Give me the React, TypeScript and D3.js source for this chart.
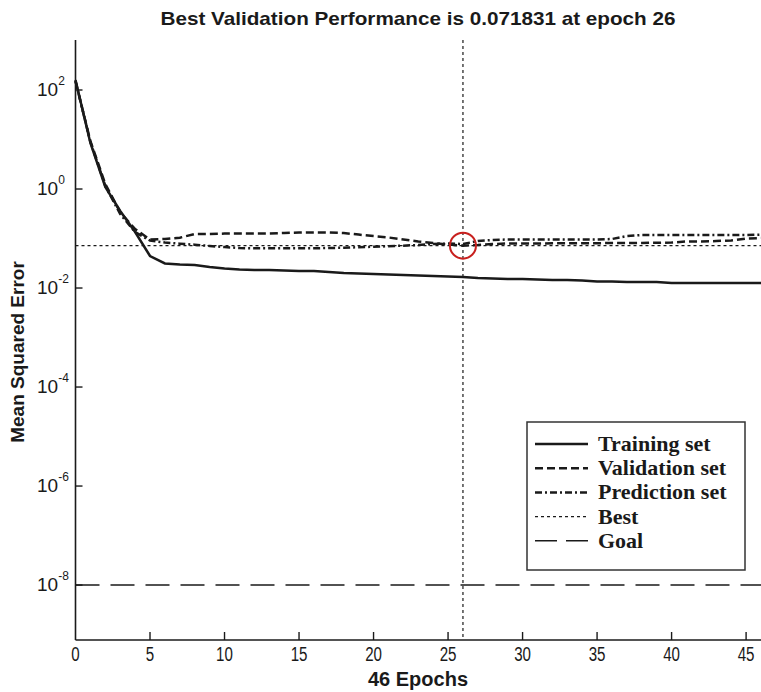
import { useRef, useEffect } from 'react';
import * as d3 from 'd3';

// MSE per epoch (index = epoch)
const training = [159, 8.5, 1.1, 0.36, 0.135, 0.0443, 0.0313, 0.0298, 0.0292, 0.0266, 0.0248, 0.0236, 0.0231, 0.0231, 0.0226, 0.0221, 0.0221, 0.0211, 0.0201, 0.0196, 0.0192, 0.0187, 0.0183, 0.0179, 0.0175, 0.0171, 0.0167, 0.0159, 0.0156, 0.0152, 0.0152, 0.0148, 0.0145, 0.0145, 0.0142, 0.0135, 0.0135, 0.0132, 0.0132, 0.0132, 0.0126, 0.0126, 0.0126, 0.0126, 0.0126, 0.0126, 0.0126];
const validation = [150, 9.3, 1.26, 0.34, 0.155, 0.0955, 0.0977, 0.104, 0.123, 0.123, 0.126, 0.126, 0.126, 0.126, 0.129, 0.132, 0.133, 0.132, 0.129, 0.12, 0.112, 0.105, 0.0955, 0.087, 0.081, 0.0756, 0.071831, 0.0739, 0.0774, 0.0792, 0.0795, 0.079, 0.0798, 0.08, 0.08, 0.0805, 0.081, 0.081, 0.0815, 0.082, 0.083, 0.087, 0.087, 0.089, 0.091, 0.1, 0.102];
const prediction = [152, 8.9, 1.15, 0.313, 0.135, 0.091, 0.083, 0.0785, 0.075, 0.0706, 0.0673, 0.0643, 0.0634, 0.0634, 0.0634, 0.0634, 0.0634, 0.0643, 0.0652, 0.0667, 0.0683, 0.0699, 0.0718, 0.0739, 0.0774, 0.0792, 0.0775, 0.089, 0.0933, 0.0955, 0.0955, 0.0955, 0.0955, 0.0955, 0.0955, 0.0955, 0.0977, 0.112, 0.1177, 0.1177, 0.1177, 0.1177, 0.1177, 0.1177, 0.1177, 0.1177, 0.12];

const bestEpoch = 26;
const bestValue = 0.071831;
const goalValue = 1e-8;
const totalEpochs = 46;

const xTicks = [0, 5, 10, 15, 20, 25, 30, 35, 40, 45];
const yTicks = [1e2, 1e0, 1e-2, 1e-4, 1e-6, 1e-8];
const yTickExp = ['2', '0', '-2', '-4', '-6', '-8'];

const legendItems = [
  { label: 'Training set', dash: null, width: 2.5 },
  { label: 'Validation set', dash: '8,4', width: 2.5 },
  { label: 'Prediction set', dash: '7,3,2,3', width: 2.5 },
  { label: 'Best', dash: '3,3', width: 1.2 },
  { label: 'Goal', dash: '22,9', width: 1.5 },
];

const W = 761;
const H = 692;
const SANS = 'Liberation Sans, Arial, sans-serif';
const SERIF = 'Liberation Serif, Times New Roman, serif';

export default function App() {
  const svgRef = useRef<SVGSVGElement | null>(null);

  useEffect(() => {
    if (!svgRef.current) return;
    const svg = d3.select(svgRef.current);
    svg.selectAll('*').remove();

    const left = 75.5, right = W, top = 40, bottom = 640;
    const x = d3.scaleLinear().domain([0, totalEpochs]).range([left, right]);
    const y = d3.scaleLog().domain([Math.pow(10, -9.11), Math.pow(10, 3.01)]).range([bottom, top]);

    svg.append('rect').attr('width', W).attr('height', H).attr('fill', '#fff');

    const g = svg.append('g');
    const ink = '#1a1a1a';

    // goal line
    g.append('line')
      .attr('x1', left).attr('x2', right)
      .attr('y1', y(goalValue)).attr('y2', y(goalValue))
      .attr('stroke', ink).attr('stroke-width', 1.5).attr('stroke-dasharray', '24,11');

    // best horizontal + vertical
    g.append('line')
      .attr('x1', left).attr('x2', right)
      .attr('y1', y(bestValue)).attr('y2', y(bestValue))
      .attr('stroke', ink).attr('stroke-width', 1.2).attr('stroke-dasharray', '3,3');
    g.append('line')
      .attr('x1', x(bestEpoch)).attr('x2', x(bestEpoch))
      .attr('y1', top).attr('y2', bottom)
      .attr('stroke', ink).attr('stroke-width', 1.2).attr('stroke-dasharray', '3,3');

    const line = d3.line<number>()
      .x((_, i) => x(i))
      .y(d => y(d));

    g.append('path').datum(prediction)
      .attr('d', line).attr('fill', 'none').attr('stroke', ink)
      .attr('stroke-width', 2.5).attr('stroke-dasharray', '7,3,2,3');
    g.append('path').datum(validation)
      .attr('d', line).attr('fill', 'none').attr('stroke', ink)
      .attr('stroke-width', 2.5).attr('stroke-dasharray', '8,4');
    g.append('path').datum(training)
      .attr('d', line).attr('fill', 'none').attr('stroke', ink)
      .attr('stroke-width', 2.5);

    // best marker
    g.append('circle')
      .attr('cx', x(bestEpoch)).attr('cy', y(bestValue)).attr('r', 13)
      .attr('fill', 'none').attr('stroke', '#c8201e').attr('stroke-width', 2);

    // axes
    g.append('line').attr('x1', left).attr('x2', left).attr('y1', top).attr('y2', bottom)
      .attr('stroke', ink).attr('stroke-width', 1.6);
    g.append('line').attr('x1', left).attr('x2', right).attr('y1', bottom).attr('y2', bottom)
      .attr('stroke', ink).attr('stroke-width', 1.6);

    xTicks.forEach(t => {
      if (t > 0) {
        g.append('line').attr('x1', x(t)).attr('x2', x(t)).attr('y1', bottom).attr('y2', bottom - 8)
          .attr('stroke', ink).attr('stroke-width', 1.4);
      }
      // tick labels are drawn narrow, as in the source image
      g.append('text')
        .attr('transform', `translate(${x(t)},${661}) scale(0.72,1)`)
        .attr('text-anchor', 'middle')
        .attr('font-family', SANS).attr('font-size', 21).attr('fill', ink)
        .text(t);
    });

    yTicks.forEach((t, i) => {
      const ty = y(t);
      g.append('line').attr('x1', left).attr('x2', left + 7).attr('y1', ty).attr('y2', ty)
        .attr('stroke', ink).attr('stroke-width', 1.4);
      const lbl = g.append('text')
        .attr('x', 37).attr('y', ty + 6)
        .attr('font-family', SANS).attr('font-size', 19).attr('fill', ink);
      lbl.append('tspan').text('10');
      lbl.append('tspan').attr('dy', -11).attr('font-size', 12).text(yTickExp[i]);
    });

    // title and labels
    svg.append('text')
      .attr('x', 418).attr('y', 25)
      .attr('text-anchor', 'middle')
      .attr('font-family', SANS).attr('font-size', 19).attr('font-weight', 'bold').attr('fill', ink)
      .attr('textLength', 515).attr('lengthAdjust', 'spacingAndGlyphs')
      .text(`Best Validation Performance is ${bestValue} at epoch ${bestEpoch}`);

    svg.append('text')
      .attr('x', 418).attr('y', 686)
      .attr('text-anchor', 'middle')
      .attr('font-family', SANS).attr('font-size', 20).attr('font-weight', 'bold').attr('fill', ink)
      .text(`${totalEpochs} Epochs`);

    svg.append('text')
      .attr('transform', `translate(24,352) rotate(-90)`)
      .attr('text-anchor', 'middle')
      .attr('font-family', SANS).attr('font-size', 19).attr('font-weight', 'bold').attr('fill', ink)
      .text('Mean Squared Error');

    // legend
    const lg = svg.append('g');
    lg.append('rect')
      .attr('x', 527).attr('y', 422).attr('width', 218).attr('height', 148)
      .attr('fill', '#fff').attr('stroke', '#333').attr('stroke-width', 1.5);

    legendItems.forEach((item, i) => {
      const cy = 444 + i * 24.2;
      const l = lg.append('line')
        .attr('x1', 535).attr('x2', 588).attr('y1', cy).attr('y2', cy)
        .attr('stroke', ink).attr('stroke-width', item.width);
      if (item.dash) l.attr('stroke-dasharray', item.dash);
      lg.append('text')
        .attr('x', 598).attr('y', cy + 7)
        .attr('font-family', SERIF).attr('font-size', 22).attr('font-weight', 'bold').attr('fill', ink)
        .text(item.label);
    });
  }, []);

  return (
    <svg
      ref={svgRef}
      width={W}
      height={H}
      style={{ position: 'absolute', left: 0, top: 0, display: 'block' }}
    />
  );
}
